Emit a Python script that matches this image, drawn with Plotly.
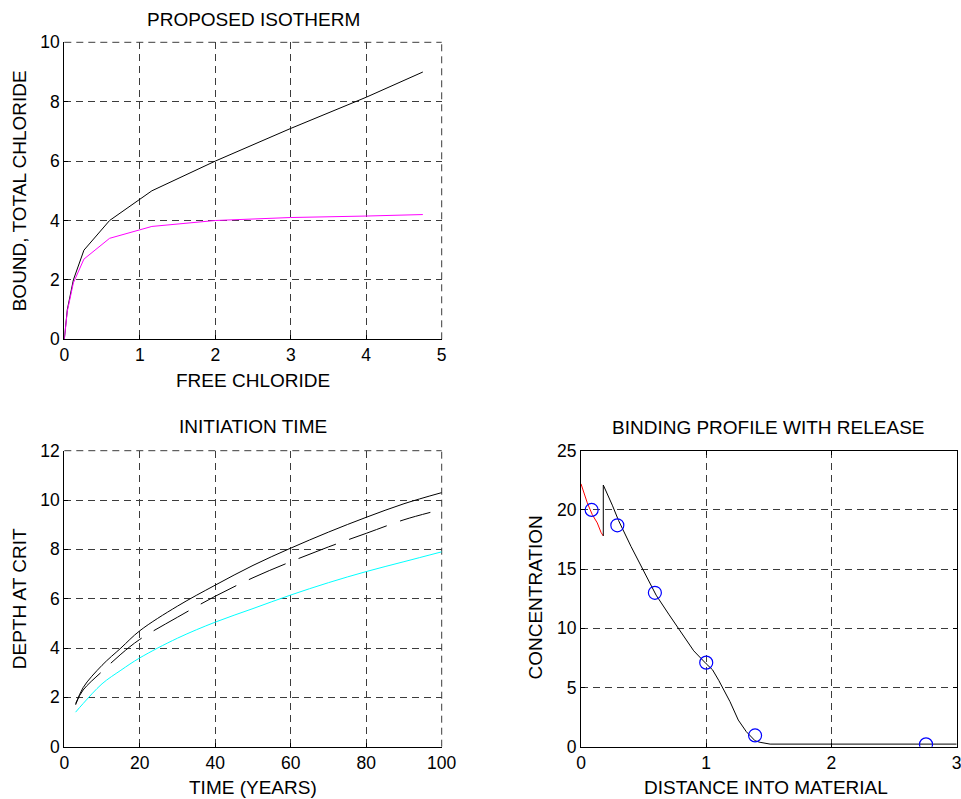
import plotly.graph_objects as go

# ---- Proposed isotherm: bound and total chloride vs free chloride ----
free_cl = [0, 0.04, 0.12, 0.26, 0.6, 1.16, 2.0, 3.0, 4.0, 4.75]
total_cl = [0, 1.0, 2.0, 3.0, 4.0, 5.0, 6.0, 7.1, 8.15, 9.0]
bound_cl = [0, 0.95, 1.9, 2.7, 3.4, 3.8, 4.0, 4.1, 4.15, 4.2]

# ---- Initiation time: depth at critical concentration vs time ----
time_yr = [3, 5, 10, 15, 20, 30, 40, 50, 60, 70, 80, 90, 100]
depth_a = [1.7, 2.4, 3.3, 4.0, 4.7, 5.7, 6.55, 7.35, 8.05, 8.7, 9.3, 9.85, 10.3]
time_b = [3, 5, 10, 15, 20, 30, 40, 50, 60, 70, 80, 90, 97]
depth_b = [1.75, 2.3, 3.05, 3.75, 4.35, 5.25, 6.1, 6.85, 7.5, 8.1, 8.65, 9.2, 9.5]
depth_c = [1.4, 1.75, 2.55, 3.1, 3.6, 4.4, 5.05, 5.6, 6.15, 6.65, 7.1, 7.5, 7.9]

# ---- Binding profile with release ----
surf_x = [0, 0.02, 0.05, 0.09, 0.13, 0.16, 0.178]
surf_y = [22.2, 21.5, 20.6, 19.6, 18.9, 18.1, 17.8]
prof_x = [0.178, 0.178, 0.25, 0.3, 0.4, 0.5, 0.6, 0.7, 0.8, 0.9, 1.0, 1.05,
          1.1, 1.19, 1.256, 1.32, 1.39, 1.43, 1.51, 3.0]
prof_y = [17.8, 22.1, 20.4, 19.1, 16.9, 14.9, 12.8, 11.2, 9.6, 8.1, 7.0, 6.5,
          5.6, 3.8, 2.25, 1.27, 0.5, 0.37, 0.22, 0.22]
meas_x = [0.085, 0.29, 0.59, 1.0, 1.39, 2.755]
meas_y = [20.0, 18.7, 13.0, 7.1, 0.95, 0.2]

W, H = 961, 799
FONT = "Liberation Sans, Arial, sans-serif"
GRID = "#3c3c3c"
GRID_DASH = "7px,5px"


def px(x):
    return x / W


def py(y):
    return 1 - y / H


fig = go.Figure()

fig.add_trace(go.Scatter(x=free_cl, y=total_cl, mode="lines",
                         line=dict(color="black", width=1), xaxis="x", yaxis="y"))
fig.add_trace(go.Scatter(x=free_cl, y=bound_cl, mode="lines",
                         line=dict(color="#ff00ff", width=1), xaxis="x", yaxis="y"))

fig.add_trace(go.Scatter(x=time_yr, y=depth_a, mode="lines", line_shape="spline",
                         line=dict(color="black", width=1), xaxis="x2", yaxis="y2"))
fig.add_trace(go.Scatter(x=time_b, y=depth_b, mode="lines", line_shape="spline",
                         line=dict(color="black", width=1, dash="40px,14px"),
                         xaxis="x2", yaxis="y2"))
fig.add_trace(go.Scatter(x=time_yr, y=depth_c, mode="lines", line_shape="spline",
                         line=dict(color="#00ffff", width=1), xaxis="x2", yaxis="y2"))

fig.add_trace(go.Scatter(x=surf_x, y=surf_y, mode="lines",
                         line=dict(color="red", width=1), xaxis="x3", yaxis="y3"))
fig.add_trace(go.Scatter(x=prof_x, y=prof_y, mode="lines",
                         line=dict(color="black", width=1), xaxis="x3", yaxis="y3"))
fig.add_trace(go.Scatter(x=meas_x, y=meas_y, mode="markers",
                         marker=dict(symbol="circle-open", size=13,
                                     color="blue", line=dict(width=1.2)),
                         xaxis="x3", yaxis="y3"))

tickfont = dict(family=FONT, size=17.5, color="black")


def axis(domain, rng, dtick, anchor, mirror=False):
    return dict(domain=domain, range=rng, dtick=dtick, tick0=0, anchor=anchor,
                automargin=False, ticklabeloverflow="allow",
                showline=True, linecolor="black", linewidth=1, mirror=mirror,
                ticks="inside", ticklen=4, tickcolor="black", tickwidth=1,
                showgrid=True, gridcolor=GRID, gridwidth=1, griddash=GRID_DASH,
                zeroline=False, tickfont=tickfont, fixedrange=True)


xl = [px(64.3), px(441.7)]
xr = [px(581), px(956.7)]
yt = [py(339.3), py(42.3)]
yb = [py(746.7), py(450.7)]

fig.update_layout(
    width=W, height=H,
    margin=dict(l=0, r=0, t=0, b=0, pad=0),
    paper_bgcolor="white", plot_bgcolor="white",
    showlegend=False,
    font=dict(family=FONT, color="black"),
    xaxis=axis(xl, [0, 5], 1, "y"),
    yaxis=axis(yt, [0, 10], 2, "x"),
    xaxis2=axis(xl, [0, 100], 20, "y2"),
    yaxis2=axis(yb, [0, 12], 2, "x2"),
    xaxis3=axis(xr, [0, 3], 1, "y3", mirror="ticks"),
    yaxis3=axis(yb, [0, 25], 5, "x3", mirror="ticks"),
)

# Open-box panels: dashed grid lines along the top and right edges
for xa, ya in (("x", "y"), ("x2", "y2")):
    edge = dict(type="line", xref=f"{xa} domain", yref=f"{ya} domain",
                line=dict(color=GRID, width=1, dash=GRID_DASH), layer="below")
    fig.add_shape(x0=0, x1=1, y0=1, y1=1, **edge)
    fig.add_shape(x0=1, x1=1, y0=0, y1=1, **edge)

lab = dict(family=FONT, size=19, color="black")
texts = [
    ("PROPOSED ISOTHERM", 253, 19.5, 0),
    ("FREE CHLORIDE", 253, 380.5, 0),
    ("BOUND, TOTAL CHLORIDE", 19.5, 190.8, -90),
    ("INITIATION TIME", 253, 426.5, 0),
    ("TIME (YEARS)", 253, 787.5, 0),
    ("DEPTH AT CRIT", 19.5, 598.7, -90),
    ("BINDING PROFILE WITH RELEASE", 768, 427.3, 0),
    ("DISTANCE INTO MATERIAL", 766, 787.5, 0),
    ("CONCENTRATION", 534.5, 598, -90),
]
for t, x, y, ang in texts:
    fig.add_annotation(text=t, x=px(x), y=py(y), xref="paper", yref="paper",
                       xanchor="center", yanchor="middle", showarrow=False,
                       textangle=ang, font=lab)

fig.write_html("out.html")
